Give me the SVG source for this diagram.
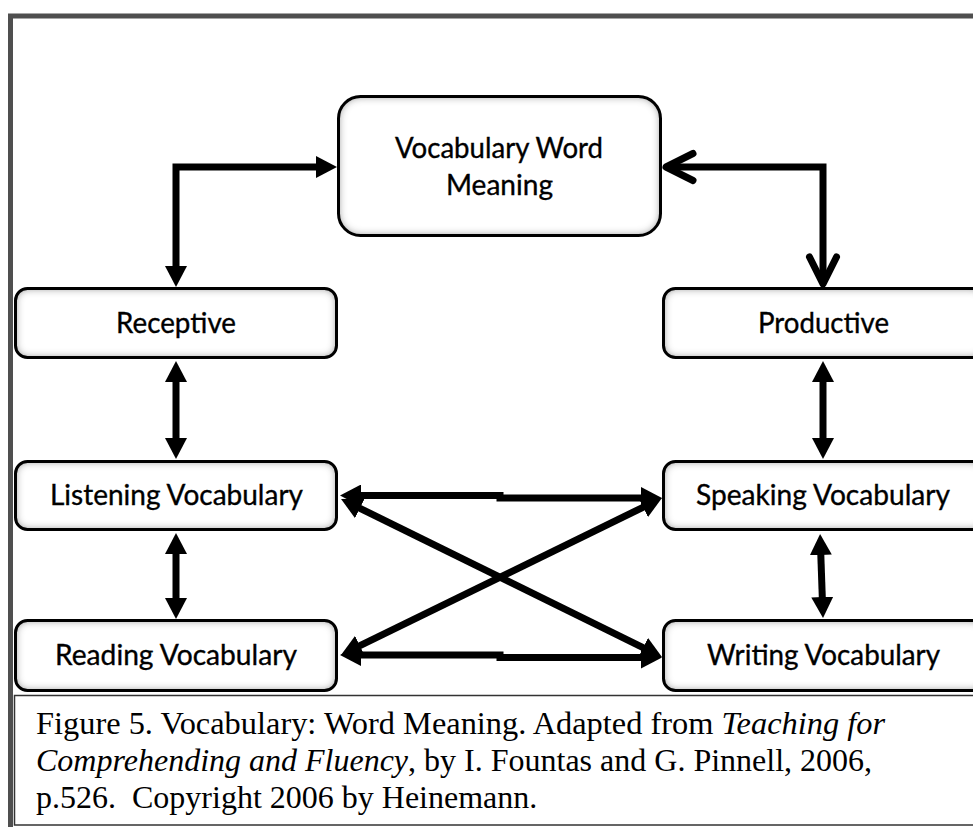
<svg xmlns="http://www.w3.org/2000/svg" width="973" height="827" viewBox="0 0 973 827">
<defs>
<style>
.fill{fill:#fff;filter:url(#inset)}
.border{fill:none;stroke:#000;stroke-width:3}
.lbl{font-family:Lato,"Noto Sans",sans-serif;font-size:28px;fill:#000;stroke:#000;stroke-width:0.35}
.cap{font-family:"Liberation Serif","Times New Roman",serif;font-size:32px;fill:#000}
.conn{fill:none;stroke:#000;stroke-width:7}
.tri{marker-start:url(#tri);marker-end:url(#tri)}
.vee{marker-start:url(#vee);marker-end:url(#vee)}
</style>
<filter id="inset" x="-5%" y="-10%" width="110%" height="120%">
<feGaussianBlur in="SourceAlpha" stdDeviation="4.5" result="blur"/>
<feComposite in="SourceAlpha" in2="blur" operator="arithmetic" k2="1" k3="-1" result="edge"/>
<feFlood flood-color="#4a4a4a" result="col"/>
<feComposite in="col" in2="edge" operator="in" result="shadow"/>
<feMerge><feMergeNode in="SourceGraphic"/><feMergeNode in="shadow"/></feMerge>
</filter>
<marker id="tri" viewBox="0 0 21 22" refX="9" refY="11" markerWidth="21" markerHeight="22" markerUnits="userSpaceOnUse" orient="auto-start-reverse">
<path d="M0,0 L21,11 L0,22 z" fill="#000"/>
</marker>
<marker id="vee" viewBox="-34 -20 40 40" refX="0" refY="0" markerWidth="40" markerHeight="40" markerUnits="userSpaceOnUse" orient="auto-start-reverse">
<path d="M-27,-13.5 L0,0 L-27,13.5" fill="none" stroke="#000" stroke-width="7" stroke-linecap="round" stroke-linejoin="round"/>
</marker>
</defs>
<rect width="973" height="827" fill="#fff"/>

<g id="caption">
<rect x="14.5" y="695.5" width="975" height="129.5" fill="#fff" stroke="#333" stroke-width="1.5"/>
<text class="cap" x="36" y="734" textLength="849" lengthAdjust="spacingAndGlyphs">Figure 5. Vocabulary: Word Meaning. Adapted from <tspan font-style="italic">Teaching for</tspan></text>
<text class="cap" x="36" y="771"><tspan font-style="italic">Comprehending and Fluency</tspan>, by I. Fountas and G. Pinnell, 2006,</text>
<text class="cap" x="36" y="808" xml:space="preserve">p.526.  Copyright 2006 by Heinemann.</text>
</g>

<g id="connectors">
<path class="conn tri" d="M176,275 V167 H325"/>
<path class="conn vee" d="M666,167 H823 V284"/>
<path class="conn tri" d="M176,373 V447"/>
<path class="conn tri" d="M176,545 V607"/>
<path class="conn tri" d="M823,373 V447"/>
<path class="conn tri" d="M820.5,546 L822.6,606"/>
<path class="conn tri" d="M352,495.5 H500 V498 H650"/>
<path class="conn tri" d="M352,655 H500 V657.5 H650"/>
<path class="conn tri" d="M351.8,504.3 L651.2,651.7"/>
<path class="conn tri" d="M351.8,649.7 L651.2,503.3"/>
</g>

<g id="node-meaning">
<rect class="fill" x="338.5" y="96.5" width="322" height="139" rx="22"/>
<rect class="border" x="338.5" y="96.5" width="322" height="139" rx="22"/>
<text class="lbl" x="395" y="158" textLength="208" lengthAdjust="spacingAndGlyphs">Vocabulary Word</text>
<text class="lbl" x="446" y="195" textLength="107" lengthAdjust="spacingAndGlyphs">Meaning</text>
</g>
<g id="node-receptive">
<rect class="fill" x="15.5" y="288.5" width="321" height="69" rx="12"/>
<rect class="border" x="15.5" y="288.5" width="321" height="69" rx="12"/>
<text class="lbl" x="116" y="333" textLength="120" lengthAdjust="spacingAndGlyphs">Receptive</text>
</g>
<g id="node-productive">
<rect class="fill" x="663.5" y="288.5" width="321" height="69" rx="12"/>
<rect class="border" x="663.5" y="288.5" width="321" height="69" rx="12"/>
<text class="lbl" x="758" y="333" textLength="131" lengthAdjust="spacingAndGlyphs">Productive</text>
</g>
<g id="node-listening">
<rect class="fill" x="15.5" y="461.5" width="321" height="68" rx="12"/>
<rect class="border" x="15.5" y="461.5" width="321" height="68" rx="12"/>
<text class="lbl" x="50" y="505" textLength="253" lengthAdjust="spacingAndGlyphs">Listening Vocabulary</text>
</g>
<g id="node-speaking">
<rect class="fill" x="663.5" y="461.5" width="321" height="68" rx="12"/>
<rect class="border" x="663.5" y="461.5" width="321" height="68" rx="12"/>
<text class="lbl" x="696" y="505" textLength="254" lengthAdjust="spacingAndGlyphs">Speaking Vocabulary</text>
</g>
<g id="node-reading">
<rect class="fill" x="15.5" y="620.5" width="321" height="70" rx="12"/>
<rect class="border" x="15.5" y="620.5" width="321" height="70" rx="12"/>
<text class="lbl" x="55" y="665" textLength="242" lengthAdjust="spacingAndGlyphs">Reading Vocabulary</text>
</g>
<g id="node-writing">
<rect class="fill" x="663.5" y="620.5" width="321" height="70" rx="12"/>
<rect class="border" x="663.5" y="620.5" width="321" height="70" rx="12"/>
<text class="lbl" x="707" y="665" textLength="233" lengthAdjust="spacingAndGlyphs">Writing Vocabulary</text>
</g>

<g id="frame">
<path d="M10.5,827 V16 H973" fill="none" stroke="#4f4f4f" stroke-width="5"/>
</g>
</svg>
